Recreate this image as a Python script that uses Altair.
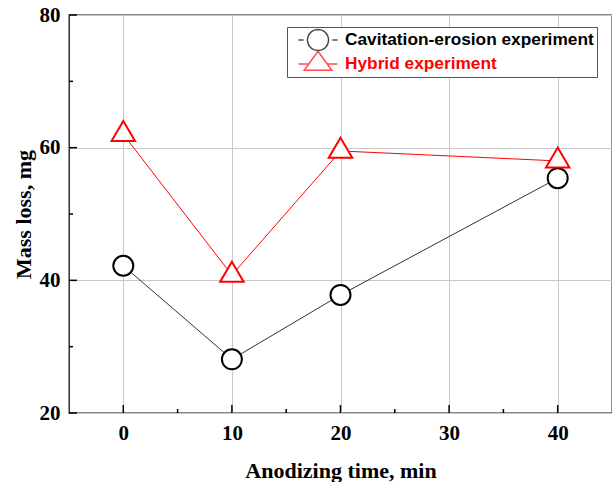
import math
import altair as alt
import pandas as pd

# ---- data ----
times = [0, 10, 20, 40]
cavitation = [42.2, 28.1, 37.8, 55.4]
hybrid = [62.0, 40.8, 59.5, 58.0]
series_names = ["Cavitation-erosion experiment", "Hybrid experiment"]
x_major = [0, 10, 20, 30, 40]
x_minor = [5, 15, 25, 35]
y_major = [20, 40, 60, 80]
y_minor = [30, 50, 70]

df = pd.DataFrame({
    "time": times + times,
    "mass": cavitation + hybrid,
    "series": [series_names[0]] * len(times) + [series_names[1]] * len(times),
})

W, H = 543, 398
SERIF = "Liberation Serif"
SANS = "Liberation Sans"

xs = alt.Scale(domain=[-5, 45], nice=False, zero=False)
ys = alt.Scale(domain=[20, 80], nice=False, zero=False)

common = dict(
    ticks=False, domain=False, grid=True, gridColor="#c8c8c8", gridWidth=1,
    labelFont=SERIF, labelFontWeight="bold", labelFontSize=21, labelColor="black",
    labelPadding=9, labelFlush=False, labelOverlap=False,
    titleFont=SERIF, titleFontWeight="bold", titleFontSize=22, titleColor="black",
)
x_axis = alt.Axis(orient="bottom", values=x_major, title="Anodizing time, min",
                  titlePadding=17, **common)
y_axis = alt.Axis(orient="left", values=y_major, title="Mass loss, mg",
                  titlePadding=4, **common)

X = alt.X("time:Q", scale=xs, axis=x_axis)
Y = alt.Y("mass:Q", scale=ys, axis=y_axis)

# legend symbols: marker with short line pieces on each side
n = 36
r = 1.17
circ = "M" + "L".join(f"{r*math.cos(2*math.pi*k/n):.3f},{r*math.sin(2*math.pi*k/n):.3f}" for k in range(n)) + "Z"
circle_legend = "M-2.17,0L-1.6,0M1.6,0L2.17,0" + circ
tri_legend = "M-2.17,0L-1.02,0M1.02,0L2.17,0M0,-1.41L1.53,0.7L-1.53,0.7Z"
tri_mark = "M0,-1.333L1.175,0.667L-1.175,0.667Z"

base = alt.Chart(df)

legend_layer = base.transform_filter("false").mark_point(filled=False, strokeWidth=1.5).encode(
    x=X, y=Y,
    color=alt.Color("series:N",
                    scale=alt.Scale(domain=series_names, range=["black", "red"]),
                    legend=alt.Legend(
                        orient="none", legendX=218, legendY=12, title=None,
                        padding=3, rowPadding=-7, symbolSize=324, symbolOffset=18,
                        labelOffset=17, labelFont=SANS, labelFontWeight="bold",
                        labelFontSize=17.3, labelLimit=400,
                        labelColor=alt.ExprRef(expr="datum.label === 'Hybrid experiment' ? 'red' : 'black'"),
                        strokeColor="#555555", fillColor="white",
                        symbolStrokeWidth=1.5, symbolFillColor="transparent")),
    shape=alt.Shape("series:N",
                    scale=alt.Scale(domain=series_names, range=[circle_legend, tri_legend])),
)

# inward axis ticks, positioned by the scales from the tick value lists
def xticks(values, length):
    return alt.Chart(pd.DataFrame({"time": values})).mark_rule(
        color="black", strokeWidth=1.5).encode(
        x=X, y=alt.value(H), y2=alt.value(H - length))


def yticks(values, length):
    return alt.Chart(pd.DataFrame({"mass": values})).mark_rule(
        color="black", strokeWidth=1.5).encode(
        y=Y, x=alt.value(0), x2=alt.value(length))


line_cav = base.transform_filter(alt.datum.series == series_names[0]).mark_line(
    color="#333333", strokeWidth=1).encode(x=X, y=Y)
line_hyb = base.transform_filter(alt.datum.series == series_names[1]).mark_line(
    color="red", strokeWidth=1).encode(x=X, y=Y)
pt_cav = base.transform_filter(alt.datum.series == series_names[0]).mark_point(
    shape="circle", size=400, filled=True, fill="white", stroke="black",
    strokeWidth=2, opacity=1).encode(x=X, y=Y)
pt_hyb = base.transform_filter(alt.datum.series == series_names[1]).mark_point(
    shape=tri_mark, size=400, filled=True, fill="white", stroke="red",
    strokeWidth=2, opacity=1).encode(x=X, y=Y)

chart = alt.layer(
    legend_layer,
    xticks(x_major, 8), xticks(x_minor, 4), yticks(y_major, 8), yticks(y_minor, 4),
    line_cav, line_hyb, pt_cav, pt_hyb,
).properties(
    width=W, height=H,
    padding={"left": 69, "top": 15, "right": 0, "bottom": 69},
    autosize=alt.AutoSizeParams(type="none"),
    background="white",
).configure_view(stroke="#111111", strokeWidth=1.3)

chart.save("out.html", embed_options={"renderer": "svg", "actions": False})
